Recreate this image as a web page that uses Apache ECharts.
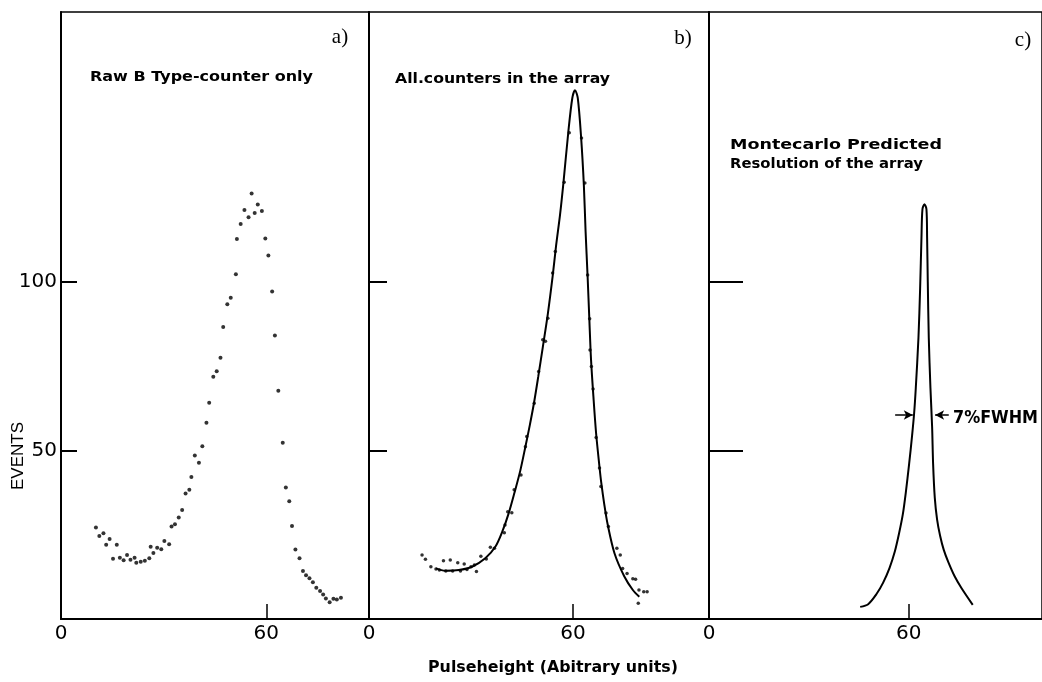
<!DOCTYPE html>
<html><head><meta charset="utf-8">
<script src="https://cdn.jsdelivr.net/npm/echarts@6/dist/echarts.min.js"></script>
<style>html,body{margin:0;padding:0;background:#fff}#c{width:1042px;height:682px}</style>
</head><body><div id="c"></div>
<script>
// ---- data ----
const panelLabels = ['a)', 'b)', 'c)'];
const panelTitles = [['Raw B Type-counter only'], ['All.counters in the array'], ['Montecarlo Predicted', 'Resolution of the array']];
const xLabelValues = [0, 60];
const xTickValues = [60];
const yTickValues = [50, 100];
const yLabelValues = [50, 100];
const yAxisName = 'EVENTS';
const xAxisName = 'Pulseheight (Abitrary units)';
const fwhmText = '7%FWHM';

const rawB = [[10.2,27.1],[11.2,24.6],[12.4,25.4],[13.2,22.0],[14.2,23.7],[15.2,17.9],[16.3,22.0],[17.2,18.2],[18.3,17.4],[19.3,19.0],[20.3,17.6],[21.5,18.2],[22.0,16.7],[23.3,17.0],[24.5,17.3],[25.8,18.0],[26.2,21.4],[27.0,19.6],[28.1,21.1],[29.3,20.7],[30.2,23.1],[31.6,22.2],[32.3,27.4],[33.3,28.1],[34.4,30.1],[35.4,32.3],[36.4,37.2],[37.5,38.3],[38.1,42.1],[39.1,48.5],[40.3,46.3],[41.3,51.2],[42.5,58.2],[43.3,64.1],[44.5,71.8],[45.5,73.5],[46.6,77.5],[47.4,86.6],[48.6,93.3],[49.6,95.3],[51.1,102.2],[51.4,112.7],[52.5,117.1],[53.6,121.3],[54.8,119.1],[55.7,126.2],[56.6,120.4],[57.5,122.9],[58.7,121.0],[59.7,112.8],[60.6,107.8],[61.7,97.1],[62.5,84.1],[63.5,67.7],[64.8,52.3],[65.7,39.0],[66.7,34.9],[67.5,27.6],[68.5,20.6],[69.7,18.0],[70.7,14.2],[71.6,13.0],[72.6,12.1],[73.6,10.9],[74.6,9.3],[75.7,8.3],[76.6,7.3],[77.4,6.1],[78.5,5.0],[79.6,6.0],[80.6,5.8],[81.8,6.3]];

const allCounters = [[15.6,19.0],[16.6,17.7],[18.2,15.5],[19.7,14.8],[20.7,14.5],[21.9,17.3],[22.6,14.2],[23.9,17.5],[24.6,14.2],[26.1,16.7],[26.9,14.2],[28.0,16.3],[28.8,14.7],[30.0,15.5],[31.0,16.0],[31.6,14.1],[32.9,18.6],[34.5,17.8],[35.7,21.3],[36.9,21.0],[39.8,25.6],[40.0,27.9],[40.8,31.8],[42.0,31.5],[42.7,38.3],[44.7,42.7],[46.0,51.1],[46.4,54.1],[48.6,64.0],[49.9,73.4],[51.1,82.8],[51.9,82.4],[52.6,89.2],[54.0,102.6],[54.8,109.0],[57.4,129.5],[58.9,144.2],[62.5,142.6],[63.5,129.3],[64.3,102.0],[64.9,89.0],[65.0,79.8],[65.4,74.9],[65.9,68.2],[66.8,53.8],[67.8,44.8],[68.2,39.3],[69.7,31.4],[70.4,27.4],[72.9,21.0],[73.9,19.0],[74.6,15.0],[75.9,13.5],[77.6,11.9],[78.4,11.8],[79.2,4.7],[79.4,8.6],[80.8,8.1],[81.8,8.1]];

const allCountersFit = [[19.7,15.0],[22.4,14.3],[26.4,14.5],[30.3,15.5],[34.2,18.0],[37.2,21.5],[39.2,25.9],[41.1,31.4],[42.8,37.5],[44.5,44.0],[46.0,51.1],[47.3,57.5],[48.6,64.5],[49.8,72.0],[51.1,80.5],[52.6,90.5],[54.0,101.5],[55.0,110.5],[56.2,120.0],[57.2,129.5],[58.6,144.2],[59.8,154.5],[60.6,156.8],[61.4,154.5],[62.4,142.6],[63.2,128.5],[63.7,115.0],[64.3,101.5],[64.8,89.0],[65.3,77.0],[66.0,66.0],[66.8,55.0],[67.8,45.0],[68.3,40.5],[69.2,34.0],[70.2,28.0],[72.2,19.5],[75.1,12.6],[77.6,8.6],[79.5,6.6]];

const monteCarlo = [[45.4,3.6],[47.8,4.4],[50.3,7.4],[52.3,10.8],[54.2,15.1],[55.8,20.0],[57.1,25.5],[58.2,31.0],[59.1,37.5],[60.1,46.0],[61.0,54.5],[61.6,61.0],[62.1,68.5],[62.9,83.4],[63.4,98.0],[63.8,113.0],[64.1,121.5],[64.7,123.0],[65.3,121.5],[65.5,113.0],[65.7,100.0],[66.0,83.4],[66.5,68.5],[67.0,57.0],[67.3,46.0],[67.8,36.0],[68.5,29.5],[69.4,24.7],[70.5,20.5],[71.9,16.8],[73.8,12.6],[75.8,9.2],[79.2,4.2]];

const fwhmLevel = 60.5;
const fwhmArrowsX = [[55.9, 61.2], [72.0, 67.9]];

// ---- chart ----
const chart = echarts.init(document.getElementById('c'), null, {renderer: 'canvas'});
const TOP = 12, BOTTOM = 63;
const grids = [
  {left: 61, top: TOP, width: 308, bottom: BOTTOM},
  {left: 369, top: TOP, width: 340, bottom: BOTTOM},
  {left: 709, top: TOP, width: 340, bottom: BOTTOM}
];
const xMax = [90, 100, 100];
const yTickLen = [16, 18, 34];
const numFont = 'DejaVu Sans';

const measureCtx = document.createElement('canvas').getContext('2d');
function fitText(text, x, y, target, size, weight, family, extra) {
  const font = (weight || 'normal') + ' ' + size + 'px ' + (family || 'DejaVu Sans');
  measureCtx.font = font;
  const w = measureCtx.measureText(text).width;
  return Object.assign({
    type: 'text', x: x, y: y, scaleX: target / w, scaleY: 1,
    style: {text: text, font: font, fill: '#000', textAlign: 'left', textVerticalAlign: 'middle'}
  }, extra || {});
}

const option = {
  backgroundColor: '#fff',
  animation: false,
  grid: grids.map(g => Object.assign({show: true, borderColor: '#000', borderWidth: 1.5, backgroundColor: 'transparent'}, g)),
  xAxis: grids.map((g, i) => ({
    gridIndex: i, type: 'value', min: 0, max: xMax[i],
    axisLine: {show: true, lineStyle: {color: '#000', width: 2}},
    axisTick: {show: true, inside: true, length: 15, customValues: xTickValues, lineStyle: {color: '#000', width: 1.5}},
    axisLabel: {show: true, customValues: xLabelValues, color: '#000', fontSize: 20, fontFamily: numFont, margin: 5},
    splitLine: {show: false}
  })),
  yAxis: grids.map((g, i) => ({
    gridIndex: i, type: 'value', min: 0, max: 180,
    axisLine: {show: true, lineStyle: {color: '#000', width: 2}},
    axisTick: {show: true, inside: true, length: yTickLen[i], customValues: yTickValues, lineStyle: {color: '#000', width: 2}},
    axisLabel: {show: i === 0, customValues: yLabelValues, color: '#000', fontSize: 20, fontFamily: numFont, margin: 4},
    splitLine: {show: false}
  })),
  series: [
    {type: 'scatter', xAxisIndex: 0, yAxisIndex: 0, data: rawB, symbolSize: 4, itemStyle: {color: '#000'}},
    {type: 'scatter', xAxisIndex: 1, yAxisIndex: 1, data: allCounters, symbolSize: 3.5, itemStyle: {color: '#000'}},
    {type: 'line', xAxisIndex: 1, yAxisIndex: 1, data: allCountersFit, showSymbol: false, smooth: 0.3,
      lineStyle: {color: '#000', width: 2}},
    {type: 'line', xAxisIndex: 2, yAxisIndex: 2, data: monteCarlo, showSymbol: false, smooth: 0.3,
      lineStyle: {color: '#000', width: 2},
      markLine: {
        silent: true, symbol: ['none', 'arrow'], symbolSize: [7, 9], animation: false,
        label: {show: false}, lineStyle: {color: '#000', width: 1.5, type: 'solid'},
        data: fwhmArrowsX.map(a => [{coord: [a[0], fwhmLevel]}, {coord: [a[1], fwhmLevel]}])
      }}
  ],
  graphic: [
    {type: 'text', x: 340, y: 37, style: {text: panelLabels[0], font: '21px "Liberation Serif"', fill: '#000', textAlign: 'center', textVerticalAlign: 'middle'}},
    {type: 'text', x: 683, y: 38, style: {text: panelLabels[1], font: '21px "Liberation Serif"', fill: '#000', textAlign: 'center', textVerticalAlign: 'middle'}},
    {type: 'text', x: 1023, y: 40, style: {text: panelLabels[2], font: '21px "Liberation Serif"', fill: '#000', textAlign: 'center', textVerticalAlign: 'middle'}},
    fitText(panelTitles[0][0], 90, 77, 223, 14, 'bold'),
    fitText(panelTitles[1][0], 395, 79, 215, 14, 'bold'),
    fitText(panelTitles[2][0], 730, 145, 212, 14, 'bold'),
    fitText(panelTitles[2][1], 730, 164, 193, 14, 'bold'),
    fitText(xAxisName, 428, 668, 250, 15, 'bold'),
    fitText(fwhmText, 953, 419, 85, 17, 'bold'),
    {type: 'text', x: 18, y: 456, rotation: Math.PI / 2,
      style: {text: yAxisName, font: '17px "Liberation Sans"', fill: '#000', textAlign: 'center', textVerticalAlign: 'middle'}}
  ]
};
chart.setOption(option);
</script>
</body></html>
